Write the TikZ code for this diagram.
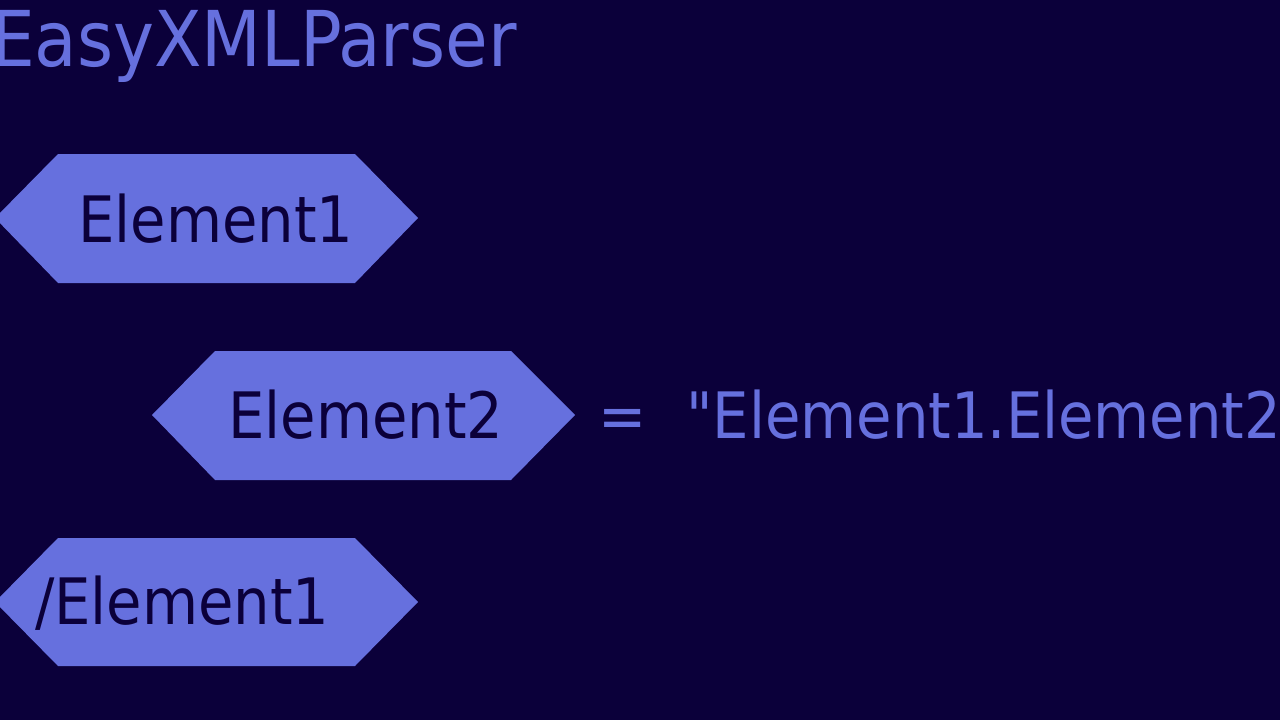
\documentclass[tikz,border=0pt]{standalone}
\usepackage{fontspec}
\setmainfont{DejaVu Sans Condensed}[Ligatures=TeXOff]
\definecolor{navy}{RGB}{11,0,58}
\definecolor{hexblue}{RGB}{102,112,222}
\tikzset{
  hexfill/.style = {fill=hexblue},
  tagtext/.style = {anchor=base west, inner sep=0pt, text=navy, font=\fontsize{64}{64}\selectfont},
  plaintext/.style = {anchor=base west, inner sep=0pt, text=hexblue, font=\fontsize{64}{64}\selectfont}
}

\begin{document}
\begin{tikzpicture}[x=1pt, y=-1pt]
    \useasboundingbox (0, 0) rectangle (1280, 720);
    \clip (0, 0) rectangle (1280, 720);
    \fill[navy] (0, 0) rectangle (1280, 720);
    \node[plaintext, font=\fontsize{77}{77}\selectfont] (title) at (-9, 66) {EasyXMLParser};
    % opening tag
    \fill[hexfill] (-5, 218) -- (58, 154) -- (355, 154) -- (418, 218) -- (355, 283) -- (58, 283) -- cycle;
    \node[tagtext] (el1) at (78, 242) {Element1};
    % nested tag
    \fill[hexfill] (152, 415) -- (215, 351) -- (511, 351) -- (575, 415) -- (511, 480) -- (215, 480) -- cycle;
    \node[tagtext] (el2) at (228, 438) {Element2};
    % closing tag
    \fill[hexfill] (-5, 602) -- (58, 538) -- (355, 538) -- (418, 602) -- (355, 666) -- (58, 666) -- cycle;
    \node[tagtext] (el1end) at (35, 624) {/Element1};
    \node[plaintext] (eq) at (598, 438) {=};
    \node[plaintext] (path) at (686, 438) {"Element1.Element2};
\end{tikzpicture}
\end{document}
